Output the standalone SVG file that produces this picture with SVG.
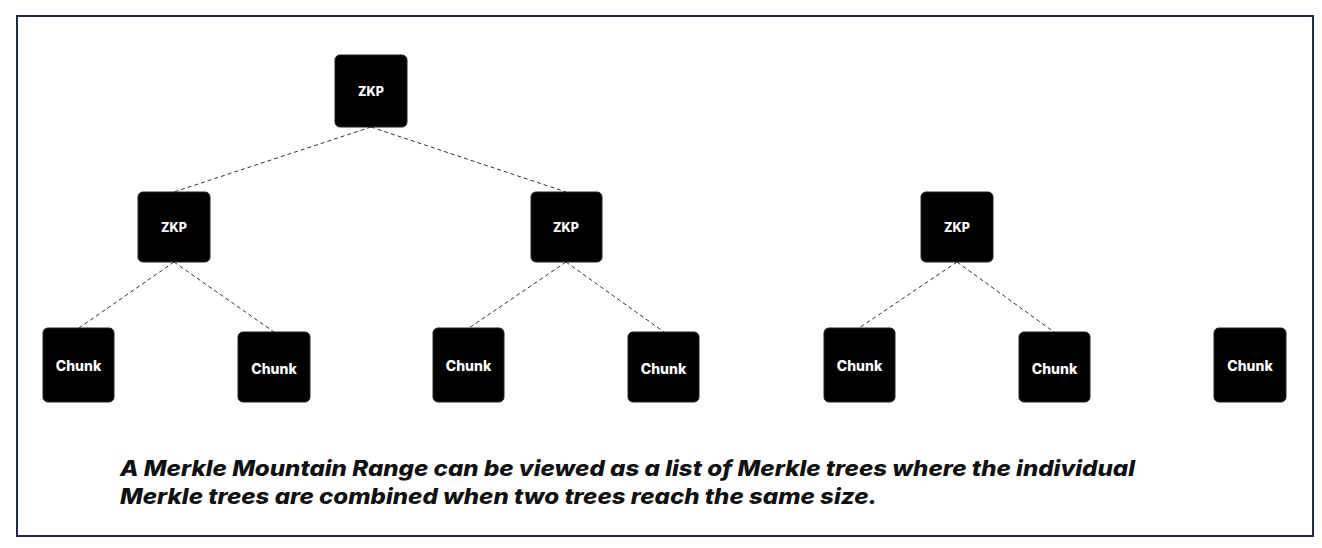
<svg xmlns="http://www.w3.org/2000/svg" width="1322" height="548" viewBox="0 0 1322 548">
<style>
.node rect{fill:#000;stroke:#222;stroke-width:1}
.node text{fill:#fff;font-family:"Inter","Liberation Sans",sans-serif;font-weight:800;text-anchor:middle;dominant-baseline:central}
.zkp text{font-size:12.5px}
.chunk text{font-size:14px}
#connectors line{stroke:#333;stroke-width:1;stroke-dasharray:4 3}
.caption{font-family:"Inter","Liberation Sans",sans-serif;font-weight:800;font-style:italic;font-size:21.5px;fill:#111}
</style>
<rect x="0" y="0" width="1322" height="548" fill="#fff"/>
<rect x="17" y="16" width="1296" height="520" fill="#fff" stroke="#24284f" stroke-width="2"/>
<g id="connectors">
<line x1="371" y1="127" x2="174" y2="192"/>
<line x1="371" y1="127" x2="566" y2="192"/>
<line x1="174" y1="262" x2="79" y2="328"/>
<line x1="174" y1="262" x2="274" y2="332"/>
<line x1="566" y1="262" x2="469" y2="328"/>
<line x1="566" y1="262" x2="664" y2="332"/>
<line x1="957" y1="262" x2="859" y2="328"/>
<line x1="957" y1="262" x2="1054" y2="332"/>
</g>
<g id="zkp-root" class="node zkp"><rect x="335" y="55" width="72" height="72" rx="5"/><text x="371" y="91">ZKP</text></g>
<g id="zkp-a" class="node zkp"><rect x="138" y="192" width="72" height="70" rx="5"/><text x="174" y="227">ZKP</text></g>
<g id="zkp-b" class="node zkp"><rect x="531" y="192" width="71" height="70" rx="5"/><text x="566" y="227">ZKP</text></g>
<g id="zkp-c" class="node zkp"><rect x="921" y="192" width="72" height="70" rx="5"/><text x="957" y="227">ZKP</text></g>
<g id="chunk-1" class="node chunk"><rect x="43" y="328" width="71" height="74" rx="5"/><text x="78.500" y="365">Chunk</text></g>
<g id="chunk-2" class="node chunk"><rect x="238" y="332" width="72" height="70" rx="5"/><text x="274" y="368">Chunk</text></g>
<g id="chunk-3" class="node chunk"><rect x="433" y="328" width="71" height="74" rx="5"/><text x="468.500" y="365">Chunk</text></g>
<g id="chunk-4" class="node chunk"><rect x="628" y="332" width="71" height="70" rx="5"/><text x="663.500" y="368">Chunk</text></g>
<g id="chunk-5" class="node chunk"><rect x="824" y="328" width="71" height="74" rx="5"/><text x="859.500" y="365">Chunk</text></g>
<g id="chunk-6" class="node chunk"><rect x="1019" y="332" width="71" height="70" rx="5"/><text x="1054.500" y="368">Chunk</text></g>
<g id="chunk-7" class="node chunk"><rect x="1214" y="328" width="72" height="74" rx="5"/><text x="1250" y="365">Chunk</text></g>
<text class="caption" x="120" y="476" textLength="1015" lengthAdjust="spacingAndGlyphs">A Merkle Mountain Range can be viewed as a list of Merkle trees where the individual</text>
<text class="caption" x="120" y="504" textLength="757" lengthAdjust="spacingAndGlyphs">Merkle trees are combined when two trees reach the same size.</text>
</svg>
